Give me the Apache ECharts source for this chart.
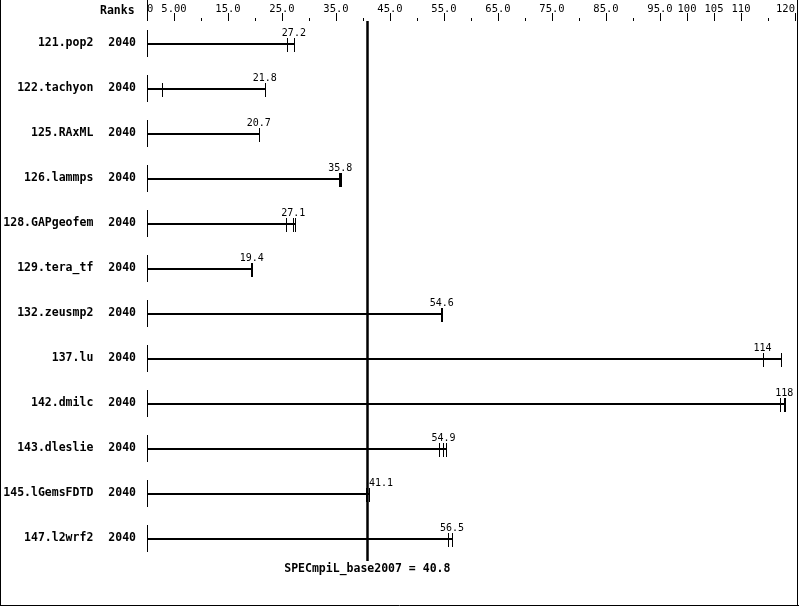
<!DOCTYPE html>
<html>
<head>
<meta charset="utf-8">
<script src="https://cdn.jsdelivr.net/npm/echarts@6/dist/echarts.min.js"></script>
<style>
html,body{margin:0;padding:0;background:#fff;}
#chart{width:799px;height:606px;}
</style>
</head>
<body>
<div id="chart"></div>
<script>
// ---- data ----
const benchmarks = ['121.pop2', '122.tachyon', '125.RAxML', '126.lammps', '128.GAPgeofem', '129.tera_tf',
  '132.zeusmp2', '137.lu', '142.dmilc', '143.dleslie', '145.lGemsFDTD', '147.l2wrf2'];
const ranks = [2040, 2040, 2040, 2040, 2040, 2040, 2040, 2040, 2040, 2040, 2040, 2040];
const medians = [27.2, 21.8, 20.7, 35.8, 27.1, 19.4, 54.6, 114, 118, 54.9, 41.1, 56.5];
const medianLabels = ['27.2', '21.8', '20.7', '35.8', '27.1', '19.4', '54.6', '114', '118', '54.9', '41.1', '56.5'];
const runA = [26.0, 2.8, 20.7, 35.6, 25.7, 19.2, 54.4, 114, 117.2, 54.0, 40.5, 55.7];
const runB = [27.2, 21.8, 20.7, 35.8, 27.1, 19.4, 54.6, 114, 118.0, 54.9, 41.1, 56.5];
const runC = [27.2, 21.8, 20.7, 36.0, 27.4, 19.4, 54.7, 117.4, 118.1, 55.4, 41.2, 56.5];
const tickValues = [0, 5, 15, 25, 35, 45, 55, 65, 75, 85, 95, 100, 105, 110, 120];
const tickLabels = ['0', '5.00', '15.0', '25.0', '35.0', '45.0', '55.0', '65.0', '75.0', '85.0', '95.0', '100', '105', '110', '120'];
const majorTicks = [5, 15, 25, 35, 45, 55, 65, 75, 85, 95, 100, 105, 110, 120];
const minorTicks = [10, 20, 30, 40, 50, 60, 70, 80, 90, 115];
const baseName = 'SPECmpiL_base2007';
const baseScore = 40.8;
const axisMin = 0, axisMax = 120;

const MONO = '"DejaVu Sans Mono", "Liberation Mono", monospace';
const chart = echarts.init(document.getElementById('chart'), null, {renderer: 'canvas'});

const seriesData = benchmarks.map((b, i) => [i, medians[i], runA[i], runB[i], runC[i]]);

function px(v) { return Math.round(v) + 0.5; }

function renderItem(params, api) {
  const idx = api.value(0);
  const med = api.value(1);
  const runs = [api.value(2), api.value(3), api.value(4)];
  const maxRun = Math.max.apply(null, runs);
  const p0 = api.coord([0, idx]);
  const y = Math.round(p0[1]);
  const x0 = px(p0[0]);
  const xMax = api.coord([maxRun, idx])[0];
  const xMed = api.coord([med, idx])[0];
  const children = [];
  children.push({type: 'line', shape: {x1: x0, y1: y - 14, x2: x0, y2: y + 13},
    style: {stroke: '#000', lineWidth: 1}});
  children.push({type: 'line', shape: {x1: x0, y1: y, x2: Math.round(xMax) + 1, y2: y},
    style: {stroke: '#000', lineWidth: 2}});
  runs.forEach(r => {
    const xr = px(api.coord([r, idx])[0]);
    children.push({type: 'line', shape: {x1: xr, y1: y - 6, x2: xr, y2: y + 8},
      style: {stroke: '#000', lineWidth: 1}});
  });
  const nearRef = Math.abs(med - baseScore) < 3;
  children.push({type: 'text', x: nearRef ? Math.round(xMed) : xMed, y: y - 11,
    style: {text: medianLabels[params.dataIndex], font: '10px ' + MONO, fill: '#000',
      align: nearRef ? 'left' : 'center', verticalAlign: 'middle'}});
  return {type: 'group', children: children};
}

const option = {
  backgroundColor: '#fff',
  animation: false,
  grid: {left: 147, right: 4, top: 21, height: 540},
  xAxis: [
    {
      type: 'value', position: 'top', min: axisMin, max: axisMax,
      axisLine: {show: false}, splitLine: {show: false},
      axisTick: {show: true, customValues: majorTicks, length: 8, lineStyle: {color: '#000', width: 1}},
      axisLabel: {
        show: true, customValues: tickValues, margin: 6,
        fontFamily: MONO, fontSize: 10.5, color: '#000',
        alignMinLabel: 'left', alignMaxLabel: 'right',
        formatter: v => { const k = tickValues.indexOf(v); return k >= 0 ? tickLabels[k] : ''; }
      }
    },
    {
      type: 'value', position: 'top', min: axisMin, max: axisMax, gridIndex: 0,
      axisLine: {show: false}, splitLine: {show: false}, axisLabel: {show: false},
      axisTick: {show: true, customValues: minorTicks, length: 3, lineStyle: {color: '#000', width: 1}}
    },
    {
      type: 'value', position: 'top', min: axisMin, max: axisMax, gridIndex: 0,
      axisLine: {show: false}, splitLine: {show: false}, axisLabel: {show: false},
      axisTick: {show: true, customValues: [axisMin], length: 22, lineStyle: {color: '#000', width: 1}}
    }
  ],
  yAxis: {
    type: 'category', data: benchmarks, inverse: true,
    axisLine: {show: false}, axisTick: {show: false}, splitLine: {show: false},
    axisLabel: {
      margin: 11,
      formatter: (v, i) => '{n|' + v + '}{r|' + ranks[i] + '}',
      rich: {
        n: {fontFamily: MONO, fontWeight: 'bold', fontSize: 11.5, color: '#000'},
        r: {fontFamily: MONO, fontWeight: 'bold', fontSize: 11.5, color: '#000', padding: [0, 0, 0, 15]}
      }
    }
  },
  series: [{
    type: 'custom',
    xAxisIndex: 0,
    renderItem: renderItem,
    encode: {x: [1, 2, 3, 4], y: 0},
    data: seriesData,
    clip: false,
    z: 3,
    markLine: {
      silent: true, symbol: 'none', animation: false,
      lineStyle: {color: '#000', width: 2.5, type: 'solid'},
      label: {show: false},
      data: [{xAxis: baseScore}],
      z: 2
    }
  }]
};
chart.setOption(option);

const refX = chart.convertToPixel({xAxisIndex: 0}, baseScore);
chart.setOption({
  graphic: [
    {type: 'text', left: 100, top: 5,
      style: {text: 'Ranks', font: 'bold 11.5px ' + MONO, fill: '#000'}},
    {type: 'text', x: refX, y: 569,
      style: {text: baseName + ' = ' + baseScore, font: 'bold 11.5px ' + MONO, fill: '#000',
        align: 'center', verticalAlign: 'middle'}},
    {type: 'line', shape: {x1: 0.5, y1: 0, x2: 0.5, y2: 606}, style: {stroke: '#000', lineWidth: 1}},
    {type: 'line', shape: {x1: 797.5, y1: 0, x2: 797.5, y2: 606}, style: {stroke: '#000', lineWidth: 1}},
    {type: 'line', shape: {x1: 0, y1: 605.5, x2: 799, y2: 605.5}, style: {stroke: '#000', lineWidth: 1}}
  ]
});
</script>
</body>
</html>
